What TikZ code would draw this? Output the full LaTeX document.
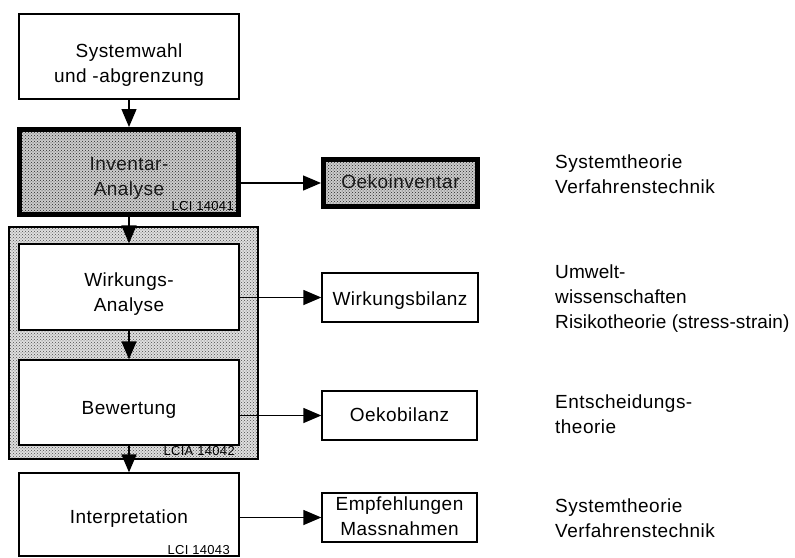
\documentclass[tikz,border=0pt]{standalone}
\usepackage{fontspec}
\setmainfont[LetterSpace=2.5]{Liberation Sans}
\usetikzlibrary{arrows.meta,patterns}
\begin{document}
\begin{tikzpicture}[x=1pt,y=-1pt,
  every node/.style={font=\fontsize{19}{25}\selectfont, inner sep=0pt},
  box/.style={draw, line width=1.3pt, align=center, fill=white},
  heavybox/.style={draw, line width=5pt, align=center, text=black!90,
    preaction={fill=gray!40}, pattern=crosshatch dots, pattern color=black!85},
  groupbox/.style={draw, line width=1.4pt, preaction={fill=gray!25},
    pattern=crosshatch dots, pattern color=black!70},
  tag/.style={font=\fontsize{13}{15}\selectfont, anchor=base east, fill=white, inner sep=1pt},
  tagdark/.style={font=\fontsize{13}{15}\selectfont, anchor=base east, text=black},
  note/.style={anchor=base west, align=left},
  arr/.style={line width=1.3pt, -{Triangle[width=15pt,length=18pt]}}]
\useasboundingbox (0,0) rectangle (795,557);

% group frame for LCIA
\node[groupbox, minimum width=249pt, minimum height=232pt] (lcia) at (133.5,343) {};

% left column
\node[box, minimum width=220pt, minimum height=85pt, text height=55pt, text depth=4pt] (sys) at (129,56.5)
  {Systemwahl\\und -abgrenzung};
\node[heavybox, minimum width=219pt, minimum height=85pt, text height=50pt, text depth=4pt] (inv) at (129,172)
  {Inventar-\\Analyse};
\node[box, minimum width=220pt, minimum height=86pt, text height=52pt, text depth=4pt] (wa) at (129,287)
  {Wirkungs-\\Analyse};
\node[box, minimum width=220pt, minimum height=85pt, text height=27pt, text depth=4pt] (bw) at (129,402.5)
  {Bewertung};
\node[box, minimum width=220pt, minimum height=83pt, text height=21pt, text depth=4pt] (ip) at (129,514.5)
  {Interpretation};

% standard tags
\node[tagdark] (t1) at (234,210) {LCI 14041};
\node[tagdark] (t2) at (235,455) {LCIA 14042};
\node[tag] (t3) at (231,554) {LCI 14043};

% middle column
\node[heavybox, minimum width=154pt, minimum height=47pt, text height=14pt, text depth=4pt] (oi) at (400.5,183)
  {Oekoinventar};
\node[box, minimum width=156pt, minimum height=49pt, text height=20pt, text depth=4pt] (wb) at (400,297.5)
  {Wirkungsbilanz};
\node[box, minimum width=155pt, minimum height=49pt, text height=16pt, text depth=4pt] (ob) at (399.5,415.5)
  {Oekobilanz};
\node[box, minimum width=155pt, minimum height=49pt, text height=39pt, text depth=4pt] (em) at (399.5,517.5)
  {Empfehlungen\\Massnahmen};

% right column notes
\node[note] (n1) at (555,193) {Systemtheorie\\Verfahrenstechnik};
\node[note, font=\fontsize{19}{25}\selectfont\addfontfeatures{LetterSpace=0.6}] (n2) at (555,328)
  {Umwelt-\\wissenschaften\\Risikotheorie (stress-strain)};
\node[note] (n3) at (555,433) {Entscheidungs-\\theorie};
\node[note] (n4) at (555,537) {Systemtheorie\\Verfahrenstechnik};

% vertical flow
\draw[arr] (sys.south) -- (inv.north);
\draw[arr] (inv.south) -- (wa.north);
\draw[arr] (wa.south) -- (bw.north);
\draw[arr] (bw.south) -- (ip.north);

% horizontal results
\draw[arr] (inv.east |- oi.west) -- (oi.west);
\draw[arr] (wa.east |- wb.west) -- (wb.west);
\draw[arr] (bw.east |- ob.west) -- (ob.west);
\draw[arr] (ip.east |- em.west) -- (em.west);
\end{tikzpicture}
\end{document}
